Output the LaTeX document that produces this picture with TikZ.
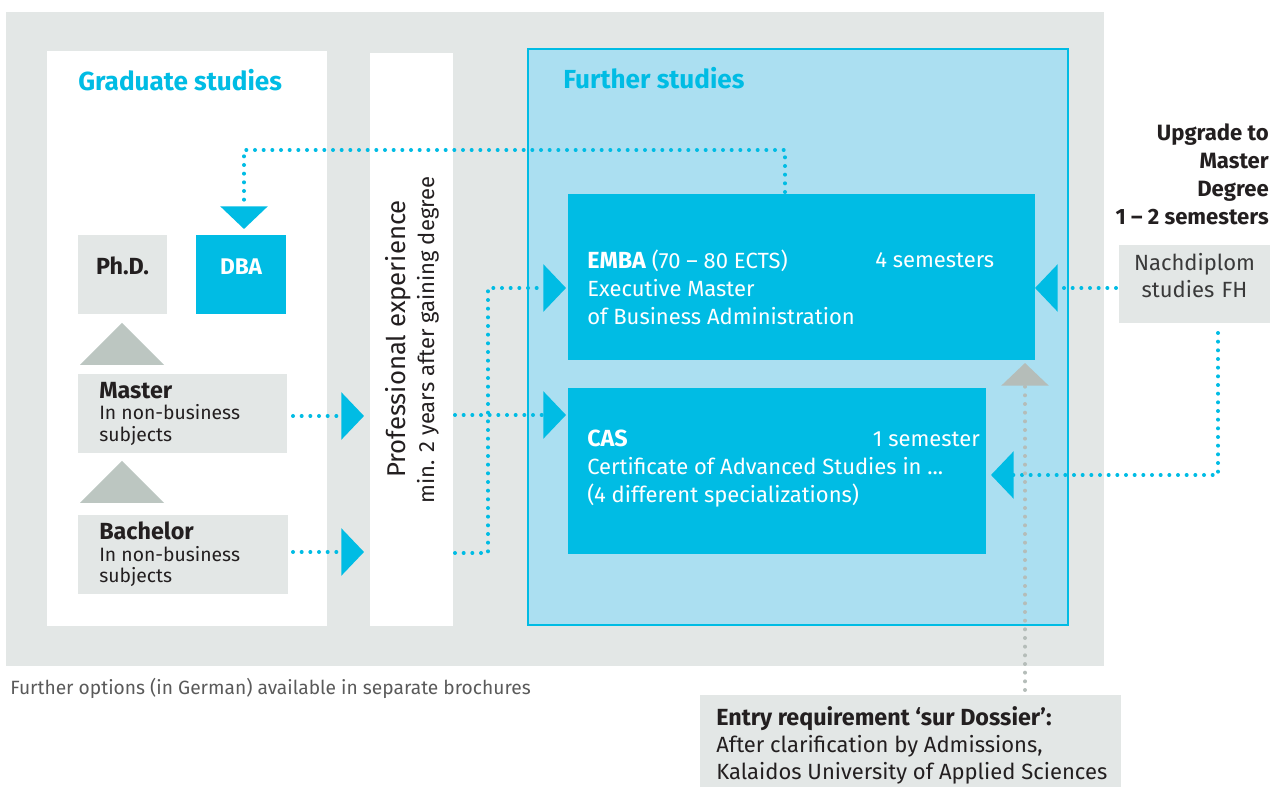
\documentclass[tikz,border=0pt]{standalone}
\usepackage{fontspec}
\setmainfont{Fira Sans}
\usetikzlibrary{fit,arrows.meta,calc}
\definecolor{cy}{HTML}{00BCE4}
\definecolor{lb}{HTML}{ABDFF1}
\definecolor{bgg}{HTML}{E3E7E6}
\definecolor{tri}{HTML}{BCC6C1}
\definecolor{dotg}{HTML}{B5BDB9}
\definecolor{ink}{HTML}{231F20}
\definecolor{soft}{HTML}{3A3A3A}
\definecolor{foot}{HTML}{5A5A5A}
\newcommand{\bigb}[1]{{\fontsize{17.5}{21}\selectfont\bfseries #1}}
\begin{document}
\begin{tikzpicture}[x=0.75pt,y=-0.75pt,
  area/.style={inner sep=0pt, outer sep=0pt},
  greybox/.style={area, fill=bgg},
  cyanbox/.style={area, fill=cy},
  heading/.style={inner sep=0pt, anchor=west, text=cy, font=\fontsize{19.6}{22}\selectfont\bfseries},
  txt/.style={inner sep=0pt, anchor=north west, align=left},
  body/.style={font=\fontsize{16.5}{21}\selectfont},
  dots/.style={cy, line width=3pt, line cap=round, dash pattern=on 0pt off 6.5pt,
    -{Triangle[length=17pt,width=35pt]}},
  gdots/.style={dots, dotg},
  tri/.style={fill=tri}
]
\useasboundingbox (0,0) rectangle (1282,787);
% background panels
\node[greybox, fit={(6,12) (1104,666)}] (bgpanel) {};
\node[area, fill=white, fit={(47,51) (327,626)}] (grad) {};
\node[area, fill=white, fit={(370,53) (453,626)}] (prof) {};
\node[area, fill=lb, draw=cy, line width=1.5pt, fit={(528,49) (1068,625)}] (further) {};

\node[heading] (gradhead) at (78,80) {Graduate studies};
\node[heading] (furthhead) at (563,78) {Further studies};

% graduate boxes
\node[greybox, fit={(78,235) (167,314)}, font=\fontsize{17.5}{20}\selectfont\bfseries, text=ink] (phd) {Ph.D.};
\node[cyanbox, fit={(196,235) (286,314)}, font=\fontsize{17}{20}\selectfont\bfseries, text=white] (dba) {DBA};
\node[greybox, fit={(78,374) (287,453)}] (master) {};
\node[greybox, fit={(78,515) (288,594)}] (bachelor) {};
\node[txt, text=ink, font=\fontsize{14.5}{16}\selectfont] (mastertxt) at (99,382) {\bigb{Master}\\In non-business\\subjects};
\node[txt, text=ink, font=\fontsize{14.5}{16}\selectfont] (bachtxt) at (99,522) {\bigb{Bachelor}\\In non-business\\subjects};

% grey triangles
\path[tri] (80,365) -- (164,365) -- (122,323) -- cycle;
\path[tri] (80,503) -- (164,503) -- (122,461) -- cycle;

% professional experience
\node[inner sep=0pt, rotate=90, text=ink, font=\fontsize{19.3}{22}\selectfont] (proftxt1) at (398,339) {Professional experience};
\node[inner sep=0pt, rotate=90, text=ink, font=\fontsize{16.5}{19}\selectfont] (proftxt2) at (428,340) {min. 2 years after gaining degree};

% further studies boxes
\node[cyanbox, fit={(568,194) (1035,360)}] (emba) {};
\node[cyanbox, fit={(568,388) (986,554)}] (cas) {};
\node[txt, body, text=white] (embatxt) at (587,250) {\bigb{EMBA} (70 – 80 ECTS)\\Executive Master\\of Business Administration};
\node[inner sep=0pt, anchor=west, body, text=white] (embasem) at (875,260) {4 semesters};
\node[txt, body, text=white] (castxt) at (587,430) {\bigb{CAS}\\Certificate of Advanced Studies in ...\\(4 different specializations)};
\node[inner sep=0pt, anchor=east, body, text=white] (cassem) at (980,439) {1 semester};

% right side
\node[inner sep=0pt, anchor=north east, align=right, text=ink, font=\fontsize{16.6}{21}\selectfont\bfseries] (upgrade) at (1269,123) {Upgrade to\\Master\\Degree\\1 – 2 semesters};
\node[greybox, fit={(1119,245) (1270,323)}, align=center, text=soft, font=\fontsize{16.5}{20}\selectfont] (nach) {Nachdiplom\\studies FH};

% entry requirement
\node[greybox, fit={(700,695) (1121,787)}] (entry) {};
\node[txt, text=ink, font=\fontsize{16.5}{20.5}\selectfont] (entrytxt) at (716,706) {\bigb{Entry requirement ‘sur Dossier’:}\\After clarification by Admissions,\\Kalaidos University of Applied Sciences};

% footer
\node[inner sep=0pt, anchor=west, text=foot, font=\fontsize{14.4}{16}\selectfont] (footer) at (10,688) {Further options (in German) available in separate brochures};

% connectors
\coordinate (e1) at (785,192);
\coordinate (e2) at (785,150);
\coordinate (e3) at (244,150);
\coordinate (dbatop) at (241,229);
\draw[dots] (e1) -- (e2) -- (e3) -- (dbatop -| e3);

\coordinate (mst) at (293,416);
\coordinate (mend) at (364,416);
\draw[dots] (mst) -- (mend);
\coordinate (bst) at (293,552);
\coordinate (bend) at (364,552);
\draw[dots] (bst) -- (bend);

\coordinate (p1) at (455,553);
\coordinate (p2) at (488,553);
\coordinate (p3) at (488,288);
\coordinate (embain) at (566,288);
\draw[dots] (p1) -- (p2) -- (p3) -- (embain);
\coordinate (p4) at (455,415);
\coordinate (casin) at (566,415);
\draw[dots] (p4) -- (casin);

\coordinate (n1) at (1116,288);
\coordinate (embaright) at (1035,288);
\draw[dots] (n1) -- (embaright);
\coordinate (n2) at (1218,333);
\coordinate (n3) at (1218,475);
\coordinate (casright) at (991,475);
\draw[dots] (n2) -- (n3) -- (casright);

\coordinate (g1) at (1025,690);
\coordinate (g2) at (1025,363);
\draw[gdots] (g1) -- (g2);
\end{tikzpicture}
\end{document}
